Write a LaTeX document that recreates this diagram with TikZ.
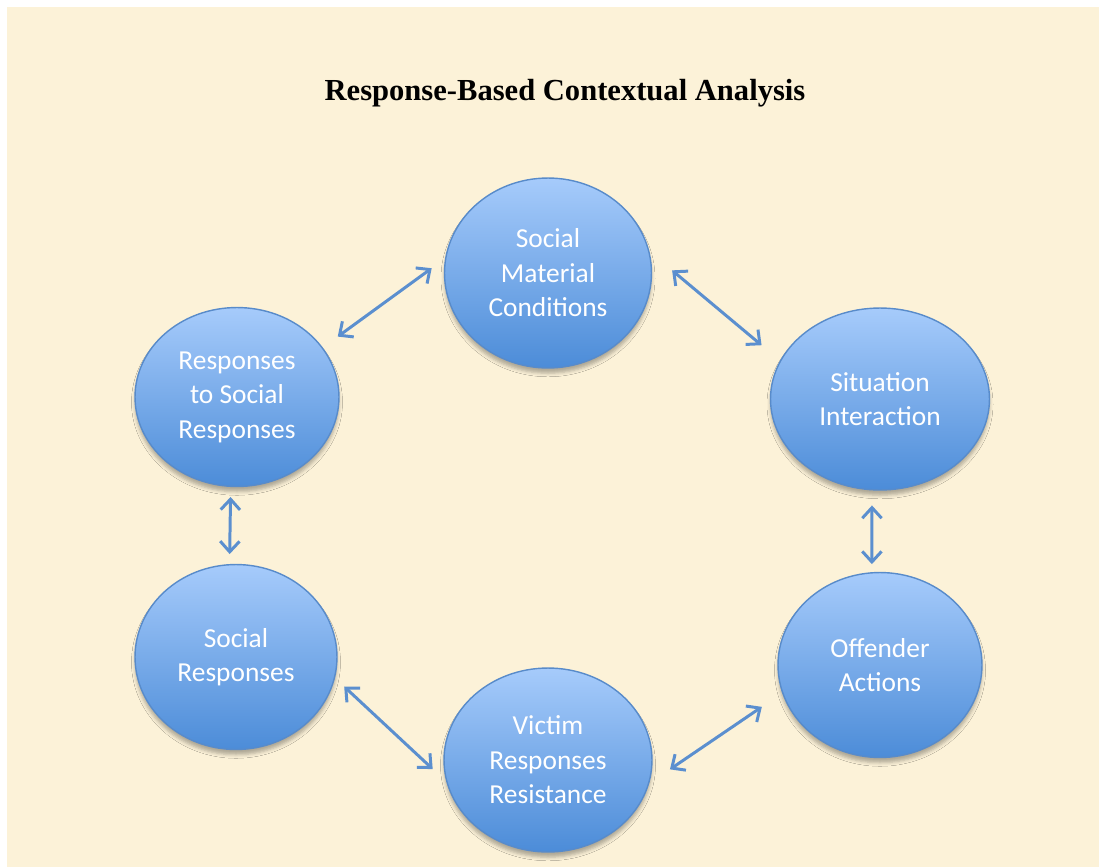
\documentclass[tikz,border=0pt]{standalone}
\usepackage{fontspec}
\setmainfont{Liberation Serif}
\newfontfamily\bubblefont{Carlito}
\usepackage{tikz}
\usetikzlibrary{arrows.meta,shapes.geometric,shadows.blur}
\definecolor{parchment}{RGB}{252,242,216}
\definecolor{bubbletop}{RGB}{166,203,251}
\definecolor{bubblebottom}{RGB}{76,140,216}
\definecolor{bubbleedge}{RGB}{88,139,202}
\definecolor{linkblue}{RGB}{91,143,207}

\begin{document}
\begin{tikzpicture}[line cap=round,line join=round,>={Straight Barb[length=6pt,width=11pt]},x=0.02cm,y=-0.02cm,
  bubble/.style={ellipse,draw=bubbleedge,line width=0.8pt,top color=bubbletop,bottom color=bubblebottom,
    text=white,align=center,inner sep=0pt,font=\bubblefont\fontsize{15.6}{19.6}\selectfont,
    blur shadow={shadow xshift=0pt,shadow yshift=-3pt,shadow opacity=30,shadow blur radius=2pt}},
  link/.style={<->,draw=linkblue,line width=1.7pt}]
\useasboundingbox (0,0) rectangle (1099,867);
\fill[white] (0,0) rectangle (1099,867);
\fill[parchment] (7,7) rectangle (1099,867);
\node[font=\bfseries\fontsize{17.4}{20}\selectfont] (title) at (565,93) {Response-Based Contextual Analysis};
\node[bubble,minimum width=4.14cm,minimum height=3.8cm] (smc) at (548,273) {Social\\Material\\Conditions};
\node[bubble,minimum width=4.38cm,minimum height=3.64cm] (sitn) at (880,399) {Situation\\Interaction};
\node[bubble,minimum width=4.08cm,minimum height=3.7cm] (offend) at (880,665) {Offender\\Actions};
\node[bubble,minimum width=4.16cm,minimum height=3.68cm] (vrr) at (548,760) {Victim\\Responses\\Resistance};
\node[bubble,minimum width=4.04cm,minimum height=3.7cm] (sr) at (236,657) {Social\\Responses};
\node[bubble,minimum width=4.08cm,minimum height=3.58cm] (rsr) at (237,397) {Responses\\to Social\\Responses};
\draw[link,shorten <=0.37cm,shorten >=0.33cm] (rsr.30) -- (smc.172);
\draw[link,shorten <=0.59cm,shorten >=0.48cm] (smc.12) -- (sitn.159);
\draw[link,shorten <=0.3cm,shorten >=0.16cm] (sitn.265) -- (offend.95);
\draw[link,shorten <=0.5cm,shorten >=0.49cm] (vrr.-13) -- (offend.196);
\draw[link,shorten <=0.25cm,shorten >=0.37cm] (sr.-12.6) -- (vrr.192.6);
\draw[link,shorten <=0.2cm,shorten >=0.2cm] (rsr.266) -- (sr.94);
\end{tikzpicture}
\end{document}
